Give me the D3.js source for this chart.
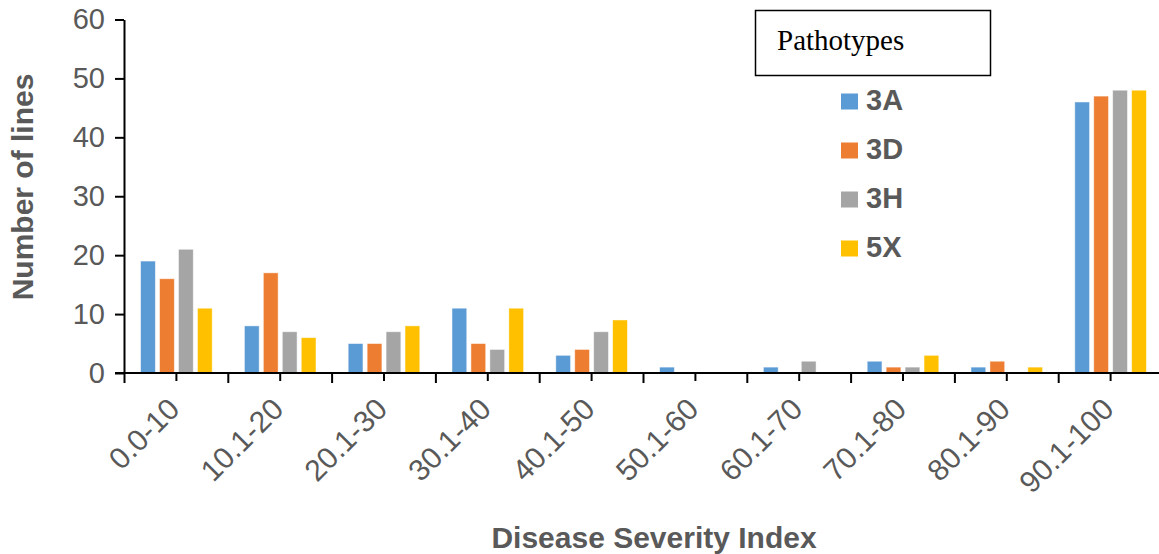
<!DOCTYPE html>
<html>
<head>
<meta charset="utf-8">
<script src="https://cdn.jsdelivr.net/npm/d3@7"></script>
<style>
  html, body { margin: 0; padding: 0; background: #fff; }
  svg { display: block; }
</style>
</head>
<body>
<svg id="chart" width="1159" height="554"></svg>
<script>
// Disease severity index classes
const categories = ["0.0-10", "10.1-20", "20.1-30", "30.1-40", "40.1-50",
                    "50.1-60", "60.1-70", "70.1-80", "80.1-90", "90.1-100"];
// Pathotypes
const seriesNames = ["3A", "3D", "3H", "5X"];
const seriesColors = ["#5B9BD5", "#ED7D31", "#A5A5A5", "#FFC000"];
// Number of lines per class, one array per pathotype
const values3A = [19, 8, 5, 11, 3, 1, 1, 2, 1, 46];
const values3D = [16, 17, 5, 5, 4, 0, 0, 1, 2, 47];
const values3H = [21, 7, 7, 4, 7, 0, 2, 1, 0, 48];
const values5X = [11, 6, 8, 11, 9, 0, 0, 3, 1, 48];
const yTicks = [0, 10, 20, 30, 40, 50, 60];

const seriesValues = [values3A, values3D, values3H, values5X];
const rows = categories.map((c, i) => ({
  category: c,
  values: seriesNames.map((s, k) => ({ series: s, value: seriesValues[k][i], color: seriesColors[k] }))
}));

const svg = d3.select("#chart");
const textColor = "#595959";

const x0 = d3.scaleBand().domain(categories).range([124.5, 1162.5]).padding(0);
const bw = x0.bandwidth();
const x1 = d3.scaleBand().domain(seriesNames)
  .range([bw * 0.155, bw * 0.845]).paddingInner(0.22).paddingOuter(0);
const y = d3.scaleLinear().domain([0, 60]).range([373, 19.5]);

// Bars
const groups = svg.append("g").selectAll("g").data(rows).join("g")
  .attr("transform", d => `translate(${x0(d.category)},0)`);
groups.selectAll("rect").data(d => d.values.filter(v => v.value > 0)).join("rect")
  .attr("x", d => x1(d.series))
  .attr("width", x1.bandwidth())
  .attr("y", d => y(d.value))
  .attr("height", d => y(0) - y(d.value))
  .attr("fill", d => d.color)
  .attr("stroke", "#ffffff")
  .attr("stroke-opacity", 0.6)
  .attr("stroke-width", 0.8);

// Y axis
const yAxis = d3.axisLeft(y).tickValues(yTicks).tickSize(9).tickSizeOuter(0).tickPadding(10);
const gy = svg.append("g").attr("transform", "translate(124,0)").call(yAxis);
gy.select(".domain").attr("stroke", "#000").attr("stroke-width", 2);
gy.selectAll(".tick line").attr("stroke", "#000").attr("stroke-width", 2);
gy.selectAll(".tick text")
  .attr("fill", textColor)
  .style("font-family", "Liberation Sans, Arial, sans-serif")
  .style("font-size", "29px");

// X axis: baseline, boundary ticks and centre ticks with rotated labels
const gx = svg.append("g").attr("transform", `translate(0,${y(0)})`);
gx.append("line")
  .attr("x1", 115).attr("x2", 1159)
  .attr("y1", 0).attr("y2", 0)
  .attr("stroke", "#000").attr("stroke-width", 2);
const boundaries = categories.map(c => x0(c)).concat([x0(categories[categories.length - 1]) + bw]);
gx.selectAll("line.bound").data(boundaries).join("line")
  .attr("class", "bound")
  .attr("x1", d => d).attr("x2", d => d)
  .attr("y1", 0).attr("y2", 10)
  .attr("stroke", "#000").attr("stroke-width", 2);
const xAxis = d3.axisBottom(x0).tickSize(8).tickSizeOuter(0).tickPadding(0);
const gxa = svg.append("g").attr("transform", `translate(0,${y(0)})`).call(xAxis);
gxa.select(".domain").remove();
gxa.selectAll(".tick line").attr("stroke", "#000").attr("stroke-width", 2);
gxa.selectAll(".tick text")
  .attr("fill", textColor)
  .style("font-family", "Liberation Sans, Arial, sans-serif")
  .style("font-size", "30px")
  .attr("text-anchor", "end")
  .attr("dy", null)
  .attr("y", null)
  .attr("transform", "translate(5,38) rotate(-45)");

// Axis titles
svg.append("text")
  .attr("x", 654).attr("y", 548)
  .attr("text-anchor", "middle")
  .attr("fill", textColor)
  .style("font-family", "Liberation Sans, Arial, sans-serif")
  .style("font-size", "30px").style("font-weight", "bold")
  .text("Disease Severity Index");

svg.append("text")
  .attr("transform", "translate(33,187) rotate(-90)")
  .attr("text-anchor", "middle")
  .attr("fill", textColor)
  .style("font-family", "Liberation Sans, Arial, sans-serif")
  .style("font-size", "30px").style("font-weight", "bold")
  .text("Number of lines");

// Legend title box
svg.append("rect")
  .attr("x", 755.5).attr("y", 10.5).attr("width", 235).attr("height", 65)
  .attr("fill", "#fff").attr("stroke", "#000").attr("stroke-width", 1.5);
svg.append("text")
  .attr("x", 777).attr("y", 50)
  .attr("fill", "#000")
  .style("font-family", "Liberation Serif, Times New Roman, serif")
  .style("font-size", "29px")
  .text("Pathotypes");

// Legend entries
const legend = svg.append("g").selectAll("g").data(seriesNames).join("g")
  .attr("transform", (d, i) => `translate(841,${109.5 + i * 49})`);
legend.append("rect")
  .attr("x", 0).attr("y", -16).attr("width", 17).attr("height", 16)
  .attr("fill", (d, i) => seriesColors[i]);
legend.append("text")
  .attr("x", 25).attr("y", 0)
  .attr("fill", textColor)
  .style("font-family", "Liberation Sans, Arial, sans-serif")
  .style("font-size", "29px").style("font-weight", "bold")
  .text(d => d);
</script>
</body>
</html>
